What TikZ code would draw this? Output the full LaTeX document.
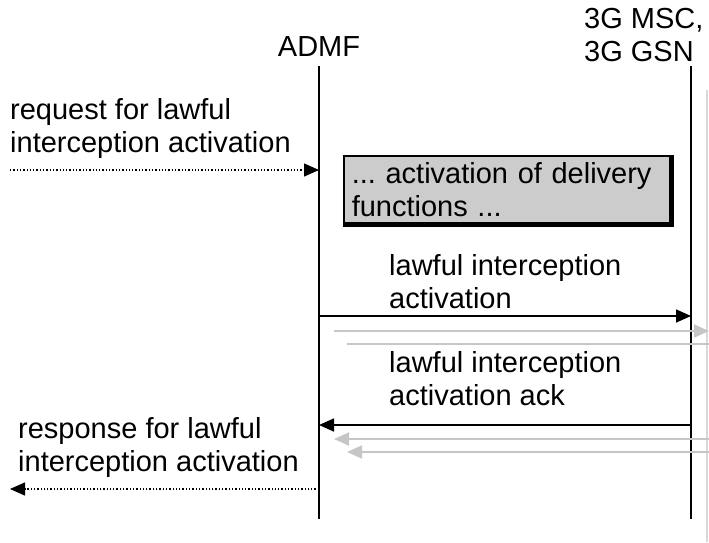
\documentclass[tikz,border=0pt]{standalone}
\usepackage{fontspec}
\setmainfont{Liberation Sans}
\usetikzlibrary{arrows.meta,positioning}

\begin{document}
\frenchspacing
\begin{tikzpicture}[x=1pt, y=-1pt, font=\fontsize{29}{33}\selectfont]
      % Define styles
      \tikzstyle{label} = [anchor=base west, inner sep=0pt, align=left]
      \tikzstyle{life} = [draw, line width=2pt]
      \tikzstyle{msg} = [draw, line width=1.6pt, -{Triangle[length=15pt,width=13pt]}]
      \tikzstyle{shadow} = [draw=gray!45, line width=2pt, -{Triangle[length=15pt,width=13pt]}]
      \tikzstyle{ext} = [draw, line width=1.3pt, dotted, -{Triangle[length=15pt,width=13pt]}]
      \tikzstyle{block} = [rectangle, draw, line width=1.5pt, fill=gray!40, text width=310pt, minimum height=67pt, inner xsep=8pt, inner ysep=2pt, anchor=north west, align=left]

      \useasboundingbox (0,0) rectangle (709,542);

      % Place lifelines
      \coordinate (admftop) at (319,66);
      \coordinate (admfbot) at (319,519);
      \coordinate (msctop) at (691,66);
      \coordinate (mscbot) at (691,519);
      \coordinate (greytop) at (707,90);
      \coordinate (greybot) at (707,542);
      \node [anchor=base] (admf) at (319,56) {ADMF};
      \node [label] (msc) at (584,61) {3G MSC,\\3G GSN};

      % Place texts
      \node [label] (req) at (10,152) {request for lawful\\interception activation};
      \node [block] (deliv) at (343,155) {... activation of delivery\\functions ...};
      \node [label] (act) at (389,308) {lawful interception\\activation};
      \node [label] (ack) at (389,405) {lawful interception\\activation ack};
      \node [label] (resp) at (18,471) {response for lawful\\interception activation};

      % Message ends
      \coordinate (reqs) at (10,170);
      \coordinate (reqe) at (319,170);
      \coordinate (acts) at (319,316);
      \coordinate (acte) at (691,316);
      \coordinate (g1s) at (334,331);
      \coordinate (g1e) at (709,331);
      \coordinate (g2s) at (347,344);
      \coordinate (g2e) at (709,344);
      \coordinate (acks) at (691,425);
      \coordinate (acke) at (319,425);
      \coordinate (g3s) at (709,439);
      \coordinate (g3e) at (334,439);
      \coordinate (g4s) at (709,452);
      \coordinate (g4e) at (347,452);
      \coordinate (resps) at (319,489);
      \coordinate (respe) at (10,489);

      % Draw lines
      \draw [line width=1.5pt, draw=gray!30] (greytop) -- (greybot);
      \path [life] (admftop) -- (admfbot);
      \path [life] (msctop) -- (mscbot);
      \draw [line width=3pt] ([xshift=1.5pt]deliv.north east) -- ([xshift=1.5pt,yshift=-1.5pt]deliv.south east) -- ([yshift=-1.5pt]deliv.south west);
      \path [ext] (reqs) -- (reqe);
      \path [msg] (acts) -- (acte);
      \path [shadow] (g1s) -- (g1e);
      \path [shadow, -] (g2s) -- (g2e);
      \path [msg] (acks) -- (acke);
      \path [shadow] (g3s) -- (g3e);
      \path [shadow] (g4s) -- (g4e);
      \path [ext] (resps) -- (respe);
\end{tikzpicture}
\end{document}
